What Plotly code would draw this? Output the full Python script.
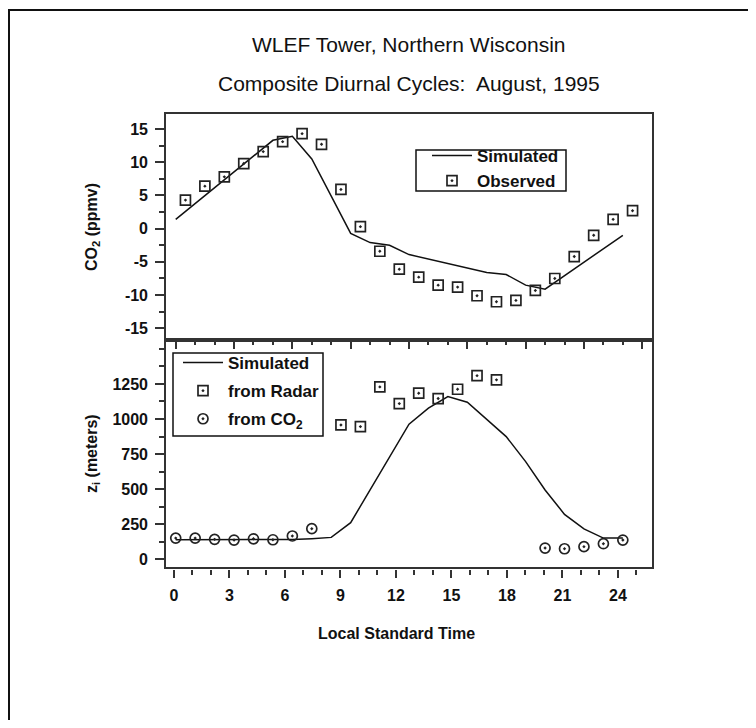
import plotly.graph_objects as go

# ---------------- data ----------------
hours = list(range(24))
sim_co2 = [1.4, 3.8, 6.2, 8.6, 11.0, 13.3, 13.9, 10.5, 4.9, -0.7, -2.1, -2.5,
           -3.9, -4.6, -5.3, -5.9, -6.6, -6.9, -8.5, -9.1, -7.1, -5.1, -3.0, -1.0]
obs_hours = [h + 0.5 for h in range(24)]
obs_co2 = [4.3, 6.4, 7.8, 9.8, 11.6, 13.1, 14.3, 12.7, 5.9, 0.3, -3.4, -6.1,
           -7.3, -8.5, -8.8, -10.1, -11.0, -10.8, -9.3, -7.5, -4.2, -1.0, 1.4, 2.7]

sim_zi = [140, 140, 140, 140, 140, 140, 142, 148, 157, 262, 495, 728,
          963, 1077, 1160, 1120, 998, 875, 697, 495, 321, 217, 152, 152]
radar_hours = [8.5, 9.5, 10.5, 11.5, 12.5, 13.5, 14.5, 15.5, 16.5]
radar_zi = [958, 946, 1229, 1110, 1184, 1146, 1212, 1309, 1279]
co2_hours = [0, 1, 2, 3, 4, 5, 6, 7, 19, 20, 21, 22, 23]
co2_zi = [152, 152, 143, 138, 147, 140, 167, 219, 81, 76, 91, 112, 138]

co2_ticks = [-15, -10, -5, 0, 5, 10, 15]
co2_tick_labels = ["-15", "-10", "-5", "0", "5", "10", "15"]
zi_ticks = [0, 250, 500, 750, 1000, 1250]
zi_tick_labels = ["0", "250", "500", "750", "1000", "1250"]
time_ticks = [0, 3, 6, 9, 12, 15, 18, 21, 24]
time_tick_labels = [str(t) for t in time_ticks]

title_1 = "WLEF Tower, Northern Wisconsin"
title_2 = "Composite Diurnal Cycles:\u00a0 August, 1995"

# ---------------- styling ----------------
FONT = "Liberation Sans, Arial, sans-serif"
INK = "#111111"
AX = "#333333"
tickfont = dict(family=FONT, size=16, color=INK, weight="bold")
legfont = dict(family=FONT, size=17, color=INK, weight="bold")

line_style = dict(color=INK, width=1.5)
sq_marker = dict(symbol="square-open-dot", size=10, color="#222222",
                 line=dict(width=1.7, color="#222222"))
ci_marker = dict(symbol="circle-open-dot", size=10, color="#222222",
                 line=dict(width=1.7, color="#222222"))

fig = go.Figure()

# top panel
fig.add_trace(go.Scatter(x=hours, y=sim_co2, mode="lines", line=line_style,
                         name="Simulated", xaxis="x", yaxis="y", legend="legend"))
fig.add_trace(go.Scatter(x=obs_hours, y=obs_co2, mode="markers", marker=sq_marker,
                         name="Observed", xaxis="x", yaxis="y", legend="legend"))

# bottom panel
fig.add_trace(go.Scatter(x=hours, y=sim_zi, mode="lines", line=line_style,
                         name="Simulated", xaxis="x2", yaxis="y2", legend="legend2",
                         legendgroup="a"))
fig.add_trace(go.Scatter(x=radar_hours, y=radar_zi, mode="markers", marker=sq_marker,
                         name="from Radar", xaxis="x2", yaxis="y2", legend="legend2",
                         legendgroup="b"))
fig.add_trace(go.Scatter(x=co2_hours, y=co2_zi, mode="markers", marker=ci_marker,
                         name="from CO<sub>2</sub>", xaxis="x2", yaxis="y2",
                         legend="legend2", legendgroup="c"))
# invisible trace to carry the labelled time axis
fig.add_trace(go.Scatter(x=[0, 24], y=[None, None], mode="markers", xaxis="x3",
                         yaxis="y2", showlegend=False, hoverinfo="skip"))

# page body offsets the figure by 8 px; target pixel coords are window coords
OFF = 8
W, H = 740, 712
L, R, T, B = 166, 652, 114, 569     # plot area in window pixels
pw, ph = R - L, B - T


def py(p):
    return (B - p) / ph


def px(p):
    return (p - L) / pw


common_box = dict(showline=True, mirror=True, linecolor=AX, linewidth=1.6,
                  showgrid=False, zeroline=False)

fig.update_layout(
    width=W, height=H,
    margin=dict(l=L - OFF, r=W - (R - OFF), t=T - OFF, b=H - (B - OFF), pad=0),
    paper_bgcolor="white", plot_bgcolor="white",
    font=dict(family=FONT, color=INK),
    xaxis=dict(domain=[0, 1], anchor="y", range=[-0.5, 24.5], ticks="",
               showticklabels=False, **common_box),
    yaxis=dict(domain=[py(340), 1], anchor="x", range=[-16.76, 17.26],
               tickmode="array", tickvals=co2_ticks, ticktext=co2_tick_labels,
               ticks="outside", ticklen=9, tickwidth=1.5, tickcolor=AX,
               ticklabelstandoff=4,
               minor=dict(tickmode="linear", tick0=0, dtick=2.5, ticks="outside",
                          ticklen=5, tickwidth=1.5, tickcolor=AX),
               tickfont=tickfont, **common_box),
    xaxis2=dict(domain=[0, 1], anchor="y2", side="top", range=[-0.5, 24.5],
                tickmode="linear", tick0=0, dtick=3, ticks="inside", ticklen=9,
                tickwidth=1.5, tickcolor=AX,
                minor=dict(tickmode="linear", tick0=0, dtick=1, ticks="inside",
                           ticklen=5, tickwidth=1.5, tickcolor=AX),
                showticklabels=False, **common_box),
    yaxis2=dict(domain=[py(567), py(340)], anchor="x2", range=[-54, 1563],
                tickmode="array", tickvals=zi_ticks, ticktext=zi_tick_labels,
                ticks="outside", ticklen=9, tickwidth=1.5, tickcolor=AX,
                ticklabelstandoff=4,
                minor=dict(tickmode="linear", tick0=0, dtick=125, ticks="outside",
                           ticklen=5, tickwidth=1.5, tickcolor=AX),
                tickfont=tickfont, **common_box),
    xaxis3=dict(overlaying="x2", anchor="free", position=0, side="bottom",
                range=[-0.432, 25.84], tickmode="array", tickvals=time_ticks,
                ticktext=time_tick_labels, ticks="outside", ticklen=8,
                tickwidth=1.5, tickcolor=AX, ticklabelstandoff=4,
                minor=dict(tickmode="linear", tick0=0, dtick=1, ticks="outside",
                           ticklen=5, tickwidth=1.5, tickcolor=AX),
                showline=False, showgrid=False, zeroline=False, tickfont=tickfont),
    legend=dict(x=px(427), y=py(138), xanchor="left", yanchor="top",
                bgcolor="rgba(0,0,0,0)", borderwidth=0, font=legfont,
                tracegroupgap=0, itemwidth=40),
    legend2=dict(x=px(178), y=py(345), xanchor="left", yanchor="top",
                 bgcolor="rgba(0,0,0,0)", borderwidth=0, font=legfont,
                 tracegroupgap=3, itemwidth=40),
    showlegend=True,
)

ann = []
ann.append(dict(text=title_1, x=0.5, y=py(44), xref="paper", yref="paper",
                showarrow=False, xanchor="center", yanchor="middle",
                font=dict(family=FONT, size=21, color=INK)))
ann.append(dict(text=title_2, x=0.5, y=py(83), xref="paper", yref="paper",
                showarrow=False, xanchor="center", yanchor="middle",
                font=dict(family=FONT, size=21, color=INK)))
ann.append(dict(text="CO<sub>2</sub> (ppmv)", x=px(92), y=py(227), xref="paper",
                yref="paper", showarrow=False, textangle=-90, xanchor="center",
                yanchor="middle", font=dict(family=FONT, size=16, color=INK, weight="bold")))
ann.append(dict(text="z<sub>i</sub> (meters)", x=px(92), y=py(454), xref="paper",
                yref="paper", showarrow=False, textangle=-90, xanchor="center",
                yanchor="middle", font=dict(family=FONT, size=16, color=INK, weight="bold")))
ann.append(dict(text="Local Standard Time", x=px(396), y=py(633), xref="paper",
                yref="paper", showarrow=False, xanchor="center", yanchor="middle",
                font=dict(family=FONT, size=16, color=INK, weight="bold")))
fig.update_layout(annotations=ann)

# legend frames (white boxes under the legend entries)
fig.add_shape(type="rect", xref="paper", yref="paper",
              x0=px(416), x1=px(566), y0=py(191), y1=py(150),
              line=dict(color=INK, width=1.5), fillcolor="white", layer="above")
fig.add_shape(type="rect", xref="paper", yref="paper",
              x0=px(173), x1=px(323), y0=py(436), y1=py(353),
              line=dict(color=INK, width=1.5), fillcolor="white", layer="above")

# outer frame (left and top edges visible in the view)
fig.add_shape(type="rect", xref="paper", yref="paper",
              x0=px(9), x1=px(900), y0=py(900), y1=py(10),
              line=dict(color=INK, width=2), fillcolor="rgba(0,0,0,0)", layer="below")

fig.write_html("out.html")
